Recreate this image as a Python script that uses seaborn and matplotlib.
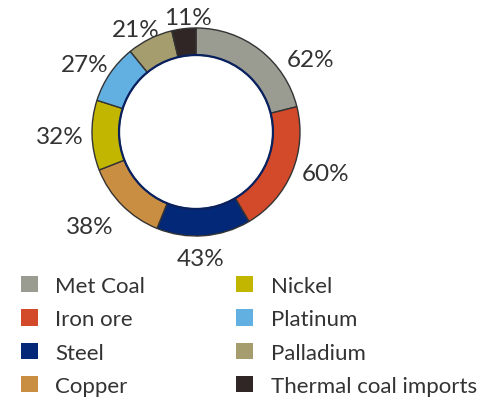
import matplotlib
matplotlib.use("Agg")
import matplotlib.pyplot as plt
from matplotlib.patches import Patch, Circle
import numpy as np
import seaborn as sns

categories = ["Met Coal", "Iron ore", "Steel", "Copper", "Nickel", "Platinum", "Palladium", "Thermal coal imports"]
values = [62, 60, 43, 38, 32, 27, 21, 11]
pct_labels = ["62%", "60%", "43%", "38%", "32%", "27%", "21%", "11%"]
colors = ["#9a9b91", "#d34a2a", "#032878", "#c98e42", "#c2b600", "#62b0e2", "#a69d6e", "#302625"]

# label placement (style): polar angle in degrees and radius in units of the ring radius
label_angle = [33, -17, -88, -139, -179, 148, 120, 94]
label_radius = [1.31, 1.30, 1.20, 1.35, 1.31, 1.26, 1.16, 1.12]

sns.set_theme(style="white")
plt.rcParams["font.family"] = ["Lato", "DejaVu Sans"]

W, H = 500, 402
fig = plt.figure(figsize=(W / 100, H / 100), dpi=100)
cx, cy, r = 196, 402 - 133, 104
half = 1.3 * r
ax = fig.add_axes([(cx - half) / W, (cy - half) / H, 2 * half / W, 2 * half / H])

wedges, _ = ax.pie(values, colors=colors, startangle=90, counterclock=False,
                   wedgeprops=dict(width=0.26, edgecolor="#333333", linewidth=1.0))
ax.set_xlim(-1.3, 1.3)
ax.set_ylim(-1.3, 1.3)
ax.set_aspect("equal")
ax.axis("off")
ax.add_patch(Circle((0, 0), 0.74, fill=False, edgecolor="#0a2160", linewidth=1.6))

for lab, a, d in zip(pct_labels, label_angle, label_radius):
    t = np.deg2rad(a)
    ax.text(d * np.cos(t), d * np.sin(t), lab, fontsize=17.5, color="#333333",
            ha="center", va="center_baseline", clip_on=False)

handles = [Patch(facecolor=c, edgecolor="none") for c in colors]
leg = fig.legend(handles, categories, loc="upper left", bbox_to_anchor=(21 / W, 1 - 277 / H),
                 ncol=2, frameon=False, fontsize=16, handlelength=0.75, handleheight=0.75,
                 handletextpad=0.8, columnspacing=4.1, labelspacing=0.6,
                 borderpad=0, borderaxespad=0)
for t in leg.get_texts():
    t.set_color("#333333")

fig.savefig("out.png", dpi=100)
